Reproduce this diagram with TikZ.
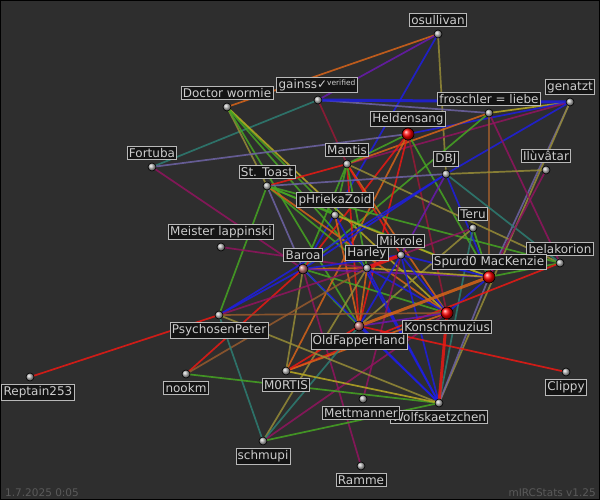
\documentclass[tikz,border=0pt]{standalone}
\usepackage{fontspec}
\setmainfont{DejaVu Sans}
\usetikzlibrary{positioning}
\definecolor{bgc}{RGB}{46,46,46}
\definecolor{boxc}{RGB}{20,20,20}
\definecolor{framec}{RGB}{185,185,185}
\definecolor{txtc}{RGB}{205,205,205}
\definecolor{footc}{RGB}{90,90,90}
\definecolor{ered}{RGB}{235,25,20}
\definecolor{eorange}{RGB}{215,100,25}
\definecolor{eolive}{RGB}{150,140,55}
\definecolor{eyellow}{RGB}{185,170,35}
\definecolor{egreen}{RGB}{70,165,35}
\definecolor{eteal}{RGB}{45,125,115}
\definecolor{eblue}{RGB}{30,30,225}
\definecolor{epurple}{RGB}{105,25,175}
\definecolor{emagenta}{RGB}{145,20,95}
\definecolor{edred}{RGB}{150,25,55}
\definecolor{elav}{RGB}{110,100,165}
\definecolor{ebrown}{RGB}{150,90,45}

\begin{document}
\begin{tikzpicture}[x=1pt, y=-1pt,
    edge/.style={line width=1.7pt, opacity=0.85},
    dot/.style={circle, draw=black, line width=0.6pt, minimum size=8pt, inner sep=0pt, shading=ball, ball color=gray!60},
    bigdot/.style={dot, minimum size=12pt, ball color=red},
    pinkdot/.style={dot, minimum size=10pt, ball color={rgb,255:red,190;green,110;blue,110}},
    lbl/.style={fill=boxc, draw=framec, line width=0.7pt, text=txtc, inner sep=1.8pt, font=\fontsize{12}{13}\selectfont}]
    \useasboundingbox (0,0) rectangle (600,500);
    \fill[bgc] (0,0) rectangle (600,500);
    \draw[black, line width=2pt] (0,0) rectangle (600,500);

    \coordinate (osullivan) at (438,34);
    \coordinate (gainss) at (318,100);
    \coordinate (wormie) at (227,107);
    \coordinate (genatzt) at (570,102);
    \coordinate (froschler) at (489,113);
    \coordinate (helden) at (408,134);
    \coordinate (mantis) at (347,164);
    \coordinate (fortuba) at (152,167);
    \coordinate (toast) at (267,186);
    \coordinate (dbj) at (446,174);
    \coordinate (iluvatar) at (546,170);
    \coordinate (phrieka) at (335,215);
    \coordinate (teru) at (473,228);
    \coordinate (meister) at (221,247);
    \coordinate (baroa) at (303,269);
    \coordinate (harley) at (367,268);
    \coordinate (mikrole) at (401,255);
    \coordinate (belakorion) at (560,263);
    \coordinate (spurd) at (489,277);
    \coordinate (psycho) at (219,315);
    \coordinate (konsch) at (447,313);
    \coordinate (oldfapper) at (359,326);
    \coordinate (reptain) at (30,377);
    \coordinate (nookm) at (186,374);
    \coordinate (mortis) at (286,371);
    \coordinate (clippy) at (566,372);
    \coordinate (mettmanner) at (363,399);
    \coordinate (wolfs) at (439,403);
    \coordinate (schmupi) at (263,441);
    \coordinate (ramme) at (361,466);

    \foreach \a/\b/\c in {wormie/osullivan/eorange, gainss/osullivan/epurple, osullivan/dbj/eolive, osullivan/baroa/eblue,
        gainss/froschler/elav, gainss/mantis/edred, fortuba/gainss/eteal,
        wormie/toast/eolive, wormie/phrieka/egreen, wormie/oldfapper/egreen, wormie/konsch/eyellow, wormie/harley/egreen,
        fortuba/helden/elav, fortuba/baroa/emagenta,
        froschler/genatzt/eyellow, helden/genatzt/eblue, mantis/genatzt/emagenta, dbj/genatzt/eblue, genatzt/spurd/elav, genatzt/wolfs/eolive,
        froschler/mantis/eorange, froschler/baroa/egreen, froschler/spurd/ebrown, froschler/belakorion/emagenta,
        mantis/helden/egreen, helden/spurd/egreen, helden/konsch/edred, helden/oldfapper/ered, helden/baroa/ered, helden/mortis/eorange,
        toast/mantis/ered, mantis/belakorion/eolive, mantis/oldfapper/ered, mantis/phrieka/egreen, mantis/harley/egreen,
        mantis/konsch/eorange, mantis/mikrole/ered, mantis/baroa/egreen,
        toast/dbj/elav, toast/psycho/egreen, toast/baroa/elav, toast/phrieka/egreen, toast/harley/egreen,
        toast/konsch/eorange, toast/spurd/egreen, toast/belakorion/egreen,
        dbj/iluvatar/eolive, dbj/belakorion/eteal, dbj/psycho/eblue, dbj/mikrole/epurple, dbj/spurd/eblue, dbj/baroa/eblue,
        iluvatar/spurd/emagenta, phrieka/spurd/eyellow, phrieka/wolfs/eblue, phrieka/oldfapper/eorange,
        mikrole/teru/emagenta, teru/wolfs/eteal, teru/oldfapper/eolive, teru/spurd/egreen,
        meister/harley/emagenta,
        psycho/baroa/eblue, baroa/harley/eorange, baroa/mikrole/eblue, baroa/spurd/epurple, baroa/konsch/egreen,
        baroa/oldfapper/egreen, baroa/wolfs/eblue, mortis/baroa/eolive, nookm/baroa/ered, ramme/baroa/emagenta,
        harley/spurd/eyellow, harley/konsch/eblue, harley/oldfapper/eorange, harley/wolfs/eblue,
        nookm/harley/ebrown, schmupi/harley/eolive,
        mikrole/wolfs/eblue, mettmanner/mikrole/emagenta, psycho/mikrole/emagenta, mikrole/konsch/eblue,
        mikrole/oldfapper/eblue, mikrole/spurd/eblue,
        spurd/belakorion/egreen, konsch/spurd/eblue, wolfs/spurd/elav, mortis/belakorion/ered,
        psycho/konsch/ebrown, mortis/konsch/eorange, schmupi/konsch/emagenta, oldfapper/konsch/epurple,
        oldfapper/clippy/ered, mortis/oldfapper/ered, oldfapper/wolfs/eblue, schmupi/oldfapper/eteal,
        reptain/psycho/ered, psycho/schmupi/eteal, psycho/wolfs/eolive,
        nookm/wolfs/egreen, mortis/wolfs/eyellow, schmupi/wolfs/egreen}
        \draw[edge, \c] (\a) -- (\b);
    \draw[edge, ered, line width=3.5pt] (harley) -- (mikrole);
    \draw[edge, eorange, line width=3pt] (oldfapper) -- (spurd);
    \draw[edge, ered, line width=3pt] (konsch) -- (wolfs);
    \draw[edge, eblue, line width=3pt] (gainss) -- (genatzt);

    \foreach \n in {osullivan, gainss, wormie, genatzt, froschler, mantis, fortuba, toast, dbj, iluvatar,
        phrieka, teru, meister, harley, mikrole, belakorion, psycho, reptain, nookm, mortis, clippy,
        mettmanner, wolfs, schmupi, ramme}
        \node[dot] (\n-d) at (\n) {};
    \foreach \n in {helden, spurd, konsch}
        \node[bigdot] (\n-d) at (\n) {};
    \foreach \n in {baroa, oldfapper}
        \node[pinkdot] (\n-d) at (\n) {};

    \node[lbl, above=3pt of osullivan-d] (osullivan-l) {osullivan};
    \node[lbl, above=3pt of gainss-d, xshift=-1pt] (gainss-l) {gainss✓\raisebox{3pt}{\fontsize{7.5}{8}\selectfont verified}};
    \node[lbl, above=3pt of wormie-d] (wormie-l) {Doctor wormie};
    \node[lbl, above=3pt of genatzt-d] (genatzt-l) {genatzt};
    \node[lbl, above=3pt of froschler-d] (froschler-l) {froschler = liebe};
    \node[lbl, above=1pt of helden-d] (helden-l) {Heldensang};
    \node[lbl, above=3pt of mantis-d] (mantis-l) {Mantis};
    \node[lbl, above=3pt of fortuba-d] (fortuba-l) {Fortuba};
    \node[lbl, above=3pt of toast-d] (toast-l) {St. Toast};
    \node[lbl, above=3pt of dbj-d] (dbj-l) {DBJ};
    \node[lbl, above=3pt of iluvatar-d] (iluvatar-l) {Ilùvâtar};
    \node[lbl, above=3pt of phrieka-d] (phrieka-l) {pHriekaZoid};
    \node[lbl, above=3pt of teru-d] (teru-l) {Teru};
    \node[lbl, above=3pt of meister-d] (meister-l) {Meister lappinski};
    \node[lbl, above=2pt of baroa-d] (baroa-l) {Baroa};
    \node[lbl, above=3pt of harley-d] (harley-l) {Harley};
    \node[lbl, above=3pt of mikrole-d] (mikrole-l) {Mikrole};
    \node[lbl, above=3pt of belakorion-d] (belakorion-l) {belakorion};
    \node[lbl, above=1pt of spurd-d] (spurd-l) {Spurd0 MacKenzie};
    \node[lbl, below=3pt of psycho-d] (psycho-l) {PsychosenPeter};
    \node[lbl, below=1pt of konsch-d] (konsch-l) {Konschmuzius};
    \node[lbl, below=2pt of oldfapper-d] (oldfapper-l) {OldFapperHand};
    \node[lbl, below=3pt of reptain-d, xshift=8pt] (reptain-l) {Reptain253};
    \node[lbl, below=3pt of nookm-d] (nookm-l) {nookm};
    \node[lbl, below=3pt of mortis-d] (mortis-l) {M0RTIS};
    \node[lbl, below=3pt of clippy-d] (clippy-l) {Clippy};
    \node[lbl, below=3pt of wolfs-d] (wolfs-l) {Wolfskaetzchen};
    \node[lbl, below=3pt of mettmanner-d, xshift=-2pt] (mettmanner-l) {Mettmanner};
    \node[lbl, below=3pt of schmupi-d] (schmupi-l) {schmupi};
    \node[lbl, below=3pt of ramme-d] (ramme-l) {Ramme};

    \node[text=footc, font=\fontsize{10.5}{11}\selectfont, anchor=south west, inner sep=0pt] (stamp) at (5,497) {1.7.2025 0:05};
    \node[text=footc, font=\fontsize{10.5}{11}\selectfont, anchor=south east, inner sep=0pt] (version) at (596,497) {mIRCStats v1.25};
\end{tikzpicture}
\end{document}
